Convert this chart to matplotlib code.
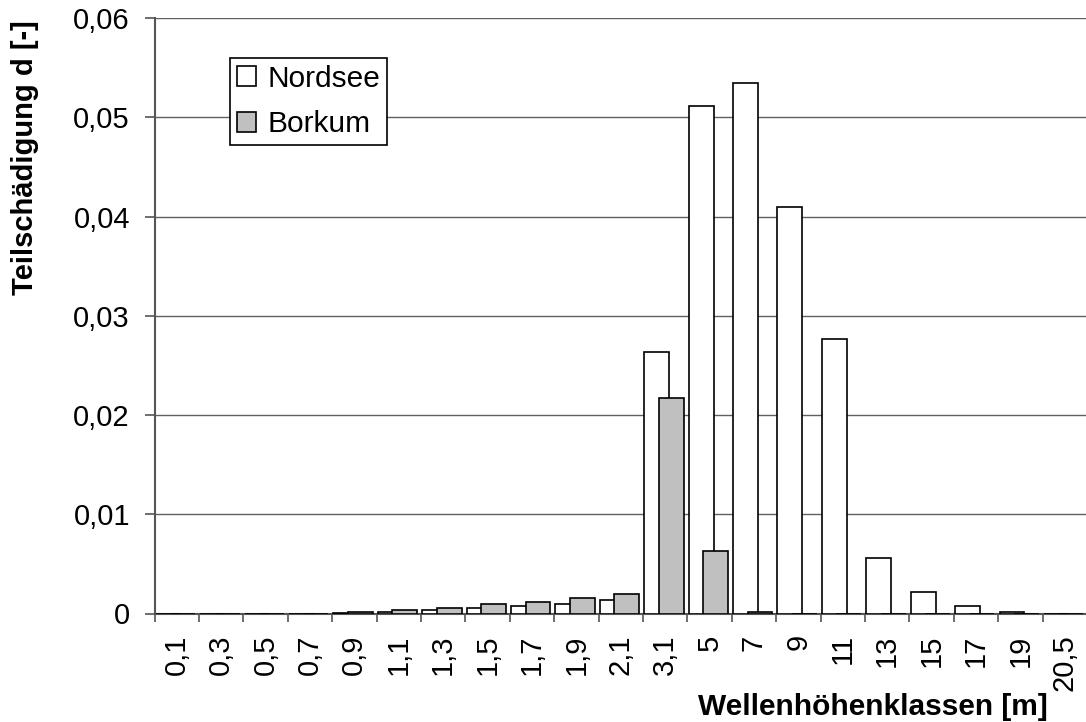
import matplotlib
matplotlib.use("Agg")
import matplotlib.pyplot as plt
import numpy as np
from matplotlib.ticker import FixedLocator, NullFormatter

plt.rcParams['font.family'] = ['Liberation Sans', 'DejaVu Sans']

categories = ["0,1", "0,3", "0,5", "0,7", "0,9", "1,1", "1,3", "1,5", "1,7", "1,9",
              "2,1", "3,1", "5", "7", "9", "11", "13", "15", "17", "19", "20,5"]
nordsee = [0, 0, 0, 0, 0.0001, 0.00015, 0.0004, 0.0006, 0.0008, 0.001,
           0.0014, 0.0264, 0.0512, 0.0535, 0.0410, 0.0277, 0.0056, 0.0022, 0.0008, 0.0002, 0]
borkum = [0, 0, 0, 0, 0.0002, 0.00035, 0.0006, 0.001, 0.0012, 0.0016,
          0.002, 0.0217, 0.0063, 0.0002, 0, 0, 0, 0, 0, 0, 0]
yticks = [0, 0.01, 0.02, 0.03, 0.04, 0.05, 0.06]
ytick_labels = ["0", "0,01", "0,02", "0,03", "0,04", "0,05", "0,06"]

W, H = 1086, 722
fig = plt.figure(figsize=(W / 100, H / 100), dpi=100)
ax = fig.add_axes([154.5 / W, 1 - 613.5 / H, (1087 - 154.5) / W, (613.5 - 18.3) / H])

x = np.arange(len(categories))
bw = 0.56
ax.bar(x - 0.19, nordsee, width=bw, color='white', edgecolor='black', linewidth=1.2,
       zorder=3, label='Nordsee')
ax.bar(x + 0.135, borkum, width=bw, color='#c0c0c0', edgecolor='black', linewidth=1.2,
       zorder=4, label='Borkum')

ax.set_xlim(-0.5, len(categories) - 0.5)
ax.set_ylim(0, 0.06)

# y axis
ax.set_yticks(yticks)
ax.set_yticklabels(ytick_labels, fontsize=21)
ax.tick_params(axis='y', direction='out', length=7.2, width=1.2, color='#555555', pad=10.5)
ax.yaxis.grid(True, color='#606060', linewidth=1.0, zorder=0)
ax.set_axisbelow(True)

# x axis: ticks at category boundaries, labels at centers
ax.xaxis.set_major_locator(FixedLocator(np.arange(len(categories) + 1) - 0.5))
ax.xaxis.set_major_formatter(NullFormatter())
ax.xaxis.set_minor_locator(FixedLocator(x))
ax.set_xticklabels(categories, minor=True, rotation=90, fontsize=21)
ax.tick_params(axis='x', which='major', direction='out', length=6, width=1.2, color='#555555')
ax.tick_params(axis='x', which='minor', length=0, pad=15)

for s in ['top', 'right']:
    ax.spines[s].set_visible(False)
for s in ['left', 'bottom']:
    ax.spines[s].set_color('#555555')
    ax.spines[s].set_linewidth(1.5)

fig.text(25 / W, 1 - 20 / H, "Teilschädigung d [-]", rotation=90, ha='center', va='top',
         fontsize=21, fontweight='bold')
fig.text(1048 / W, 1 - 715 / H, "Wellenhöhenklassen [m]", ha='right', va='baseline',
         fontsize=21.5, fontweight='bold')

leg = ax.legend(loc='upper left', bbox_to_anchor=(230 / W, 1 - 58 / H),
                bbox_transform=fig.transFigure, borderaxespad=0, fontsize=21.5,
                frameon=True, fancybox=False, edgecolor='black', framealpha=1,
                handlelength=0.64, handleheight=0.64, handletextpad=0.4,
                labelspacing=0.6, borderpad=0.22)
leg.get_frame().set_linewidth(1.2)
leg.set_zorder(10)

fig.savefig("out.png", dpi=100)
